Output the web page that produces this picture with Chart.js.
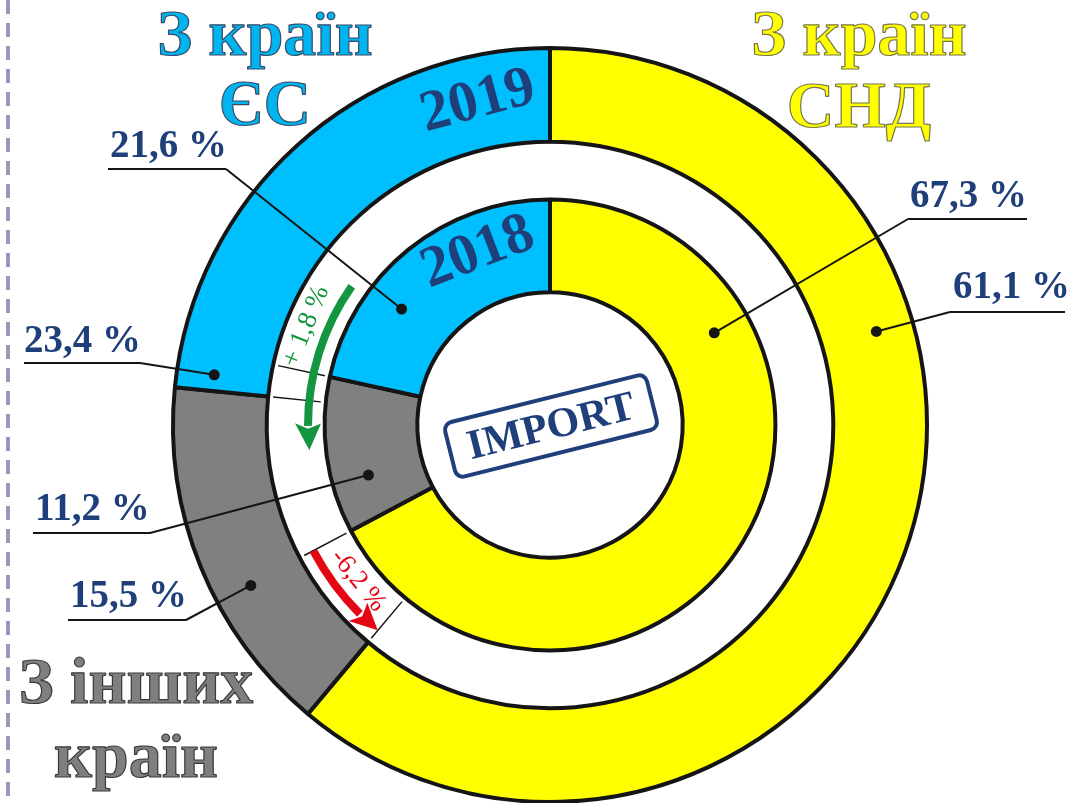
<!DOCTYPE html>
<html>
<head>
<meta charset="utf-8">
<script src="https://cdn.jsdelivr.net/npm/chart.js@4.4.1/dist/chart.umd.min.js"></script>
<style>
  html, body { margin: 0; padding: 0; background: #fff; }
</style>
</head>
<body>
<canvas id="import_chart" width="1084" height="803"></canvas>
<script>
// shares of import by origin, %
const categories = ['З країн СНД', 'З інших країн', 'З країн ЄС'];
const years = ['2019', '2018'];
const share2019 = [61.1, 15.5, 23.4];
const share2018 = [67.3, 11.2, 21.6];
const sliceColors = ['#FFFF00', '#808080', '#00BFFF'];

const DARK_BLUE = '#1F3F7A';
const INK = '#151515';

const fmt = v => v.toFixed(1).replace('.', ',') + ' %';
const fmtDiff = v => (v > 0 ? '+ ' : '-') + Math.abs(v).toFixed(1).replace('.', ',') + ' %';

// where the value labels sit (layout only)
// ds: 0 = outer ring (2019), 2 = inner ring (2018)
const callouts = [
  { ds: 2, idx: 0, at: 60.7, tx: 910, ty: 207, ux1: 908, ux2: 1027, uy: 219, join: 908 },
  { ds: 0, idx: 0, at: 74,   tx: 953, ty: 298, ux1: 950, ux2: 1065, uy: 312, join: 950 },
  { ds: 2, idx: 2, at: 308,  tx: 110, ty: 157, ux1: 108, ux2: 226,  uy: 169, join: 226 },
  { ds: 0, idx: 2, at: 278.5,tx: 24,  ty: 352, ux1: 24,  ux2: 140,  uy: 363, join: 140 },
  { ds: 2, idx: 1, at: 254.6,tx: 35,  ty: 520, ux1: 33,  ux2: 150,  uy: 533, join: 150 },
  { ds: 0, idx: 1, at: 241.8,tx: 70,  ty: 607, ux1: 68,  ux2: 186,  uy: 620, join: 186 }
];

const decorations = {
  id: 'decorations',
  afterDatasetsDraw(chart) {
    const ctx = chart.ctx;
    const outer = chart.getDatasetMeta(0).data;
    const inner = chart.getDatasetMeta(2).data;
    const cx = outer[0].x, cy = outer[0].y;
    const rad = d => (d - 90) * Math.PI / 180;   // degrees from 12 o'clock, clockwise
    const pt = (r, a) => [cx + r * Math.cos(a), cy + r * Math.sin(a)];
    const gapIn = inner[0].outerRadius, gapOut = outer[0].innerRadius;

    ctx.save();

    // left dashed rule
    ctx.strokeStyle = '#9A98B8';
    ctx.lineWidth = 4;
    ctx.setLineDash([14, 9]);
    ctx.beginPath(); ctx.moveTo(8, 0); ctx.lineTo(8, 803); ctx.stroke();
    ctx.setLineDash([]);

    // boundary ticks across the gap
    ctx.strokeStyle = INK;
    ctx.lineWidth = 1.5;
    [outer[0], outer[1], inner[0], inner[1]].forEach(a => {
      const p1 = pt(gapIn + 5, a.endAngle), p2 = pt(gapOut - 5, a.endAngle);
      ctx.beginPath(); ctx.moveTo(p1[0], p1[1]); ctx.lineTo(p2[0], p2[1]); ctx.stroke();
    });

    // curved arrows with the change
    function arcArrow(r, fromDeg, toDeg, color) {
      const dir = Math.sign(toDeg - fromDeg);
      const headDeg = 27 / r * 180 / Math.PI;
      const baseDeg = toDeg - dir * headDeg;
      ctx.strokeStyle = color;
      ctx.lineWidth = 8;
      ctx.lineCap = 'butt';
      ctx.beginPath();
      ctx.arc(cx, cy, r, rad(fromDeg), rad(baseDeg + dir * 0.6), dir < 0);
      ctx.stroke();
      const t = pt(r, rad(toDeg));
      const b1 = pt(r + 13, rad(baseDeg));
      const b2 = pt(r - 13, rad(baseDeg));
      const n = pt(r, rad(baseDeg + dir * 1.3));
      ctx.fillStyle = color;
      ctx.beginPath();
      ctx.moveTo(t[0], t[1]); ctx.lineTo(b1[0], b1[1]); ctx.lineTo(n[0], n[1]); ctx.lineTo(b2[0], b2[1]);
      ctx.closePath(); ctx.fill();
    }
    function arcText(text, r, atDeg, rot, color) {
      const p = pt(r, rad(atDeg));
      ctx.save();
      ctx.translate(p[0], p[1]);
      ctx.rotate(rot * Math.PI / 180);
      ctx.fillStyle = color;
      ctx.font = '27px "Liberation Serif"';
      ctx.textAlign = 'center';
      ctx.textBaseline = 'middle';
      ctx.fillText(text, 0, 0);
      ctx.restore();
    }
    arcArrow(242, 305, 264, '#13963F');
    arcText(fmtDiff(share2019[2] - share2018[2]), 263, 292, 292, '#13963F');
    arcArrow(268, 242, 220, '#E30613');
    arcText(fmtDiff(share2019[0] - share2018[0]), 247, 231, 51, '#E30613');

    // year labels in the EU slices
    function rotText(text, x, y, rot, font, color) {
      ctx.save();
      ctx.translate(x, y);
      ctx.rotate(rot * Math.PI / 180);
      ctx.font = font;
      ctx.fillStyle = color;
      ctx.textAlign = 'center';
      ctx.textBaseline = 'middle';
      ctx.fillText(text, 0, 0);
      ctx.restore();
    }
    rotText(years[0], 478, 102, -15, 'bold 58px "Liberation Serif"', DARK_BLUE);
    rotText(years[1], 478, 253, -21, 'bold 58px "Liberation Serif"', DARK_BLUE);

    // IMPORT stamp
    ctx.save();
    ctx.translate(551, 426);
    ctx.rotate(-14 * Math.PI / 180);
    ctx.strokeStyle = DARK_BLUE;
    ctx.lineWidth = 4;
    ctx.beginPath();
    ctx.roundRect(-104, -28, 208, 56, 8);
    ctx.stroke();
    ctx.font = 'bold 42px "Liberation Serif"';
    ctx.fillStyle = DARK_BLUE;
    ctx.textAlign = 'center';
    ctx.textBaseline = 'middle';
    ctx.fillText('IMPORT', 0, 2);
    ctx.restore();

    // value callouts
    callouts.forEach(c => {
      const arc = chart.getDatasetMeta(c.ds).data[c.idx];
      const values = c.ds === 0 ? share2019 : share2018;
      const r = arc.innerRadius + 0.6 * (arc.outerRadius - arc.innerRadius);
      const d = pt(r, rad(c.at));
      ctx.strokeStyle = INK;
      ctx.lineWidth = 2;
      ctx.beginPath();
      ctx.moveTo(c.ux1, c.uy); ctx.lineTo(c.ux2, c.uy);
      ctx.moveTo(c.join, c.uy); ctx.lineTo(d[0], d[1]);
      ctx.stroke();
      ctx.fillStyle = INK;
      ctx.beginPath(); ctx.arc(d[0], d[1], 5.5, 0, Math.PI * 2); ctx.fill();
      ctx.font = 'bold 39px "Liberation Serif"';
      ctx.fillStyle = DARK_BLUE;
      ctx.textAlign = 'left';
      ctx.textBaseline = 'alphabetic';
      ctx.fillText(fmt(values[c.idx]), c.tx, c.ty);
    });

    // group titles
    function title(lines, x, ys, fill, stroke) {
      ctx.font = 'bold 66px "Liberation Serif"';
      ctx.textAlign = 'center';
      ctx.textBaseline = 'alphabetic';
      ctx.lineWidth = 1.2;
      ctx.lineJoin = 'round';
      lines.forEach((l, i) => {
        ctx.fillStyle = fill;
        ctx.fillText(l, x, ys[i]);
        ctx.strokeStyle = stroke;
        ctx.strokeText(l, x, ys[i]);
      });
    }
    const split = s => { const w = s.split(' '); return [w[0] + ' ' + w[1], w.slice(2).join(' ')]; };
    title(split(categories[2]), 265, [55, 125], '#00B4F0', '#3A4A65');
    title(split(categories[0]), 859, [55, 127], '#FFFF00', '#77774A');
    const other = categories[1].split(' ');
    title([other[0] + ' ' + other[1], other[2]], 136, [703, 777], '#7F7F7F', '#3A3A3A');

    ctx.restore();
  }
};

new Chart(document.getElementById('import_chart'), {
  type: 'doughnut',
  data: {
    labels: categories,
    datasets: [
      { label: years[0], data: share2019, backgroundColor: sliceColors, borderColor: INK, borderWidth: 4, weight: 94, clip: false },
      { label: 'gap', data: [100], backgroundColor: 'rgba(0,0,0,0)', borderWidth: 0, weight: 58, clip: false },
      { label: years[1], data: share2018, backgroundColor: sliceColors, borderColor: INK, borderWidth: 4, weight: 93, clip: false }
    ]
  },
  options: {
    responsive: false,
    animation: false,
    events: [],
    radius: 377,
    cutout: 132,
    layout: { padding: { left: 173, right: 157, top: 48, bottom: 1 } },
    plugins: {
      legend: { display: false },
      tooltip: { enabled: false }
    }
  },
  plugins: [decorations]
});
</script>
</body>
</html>
